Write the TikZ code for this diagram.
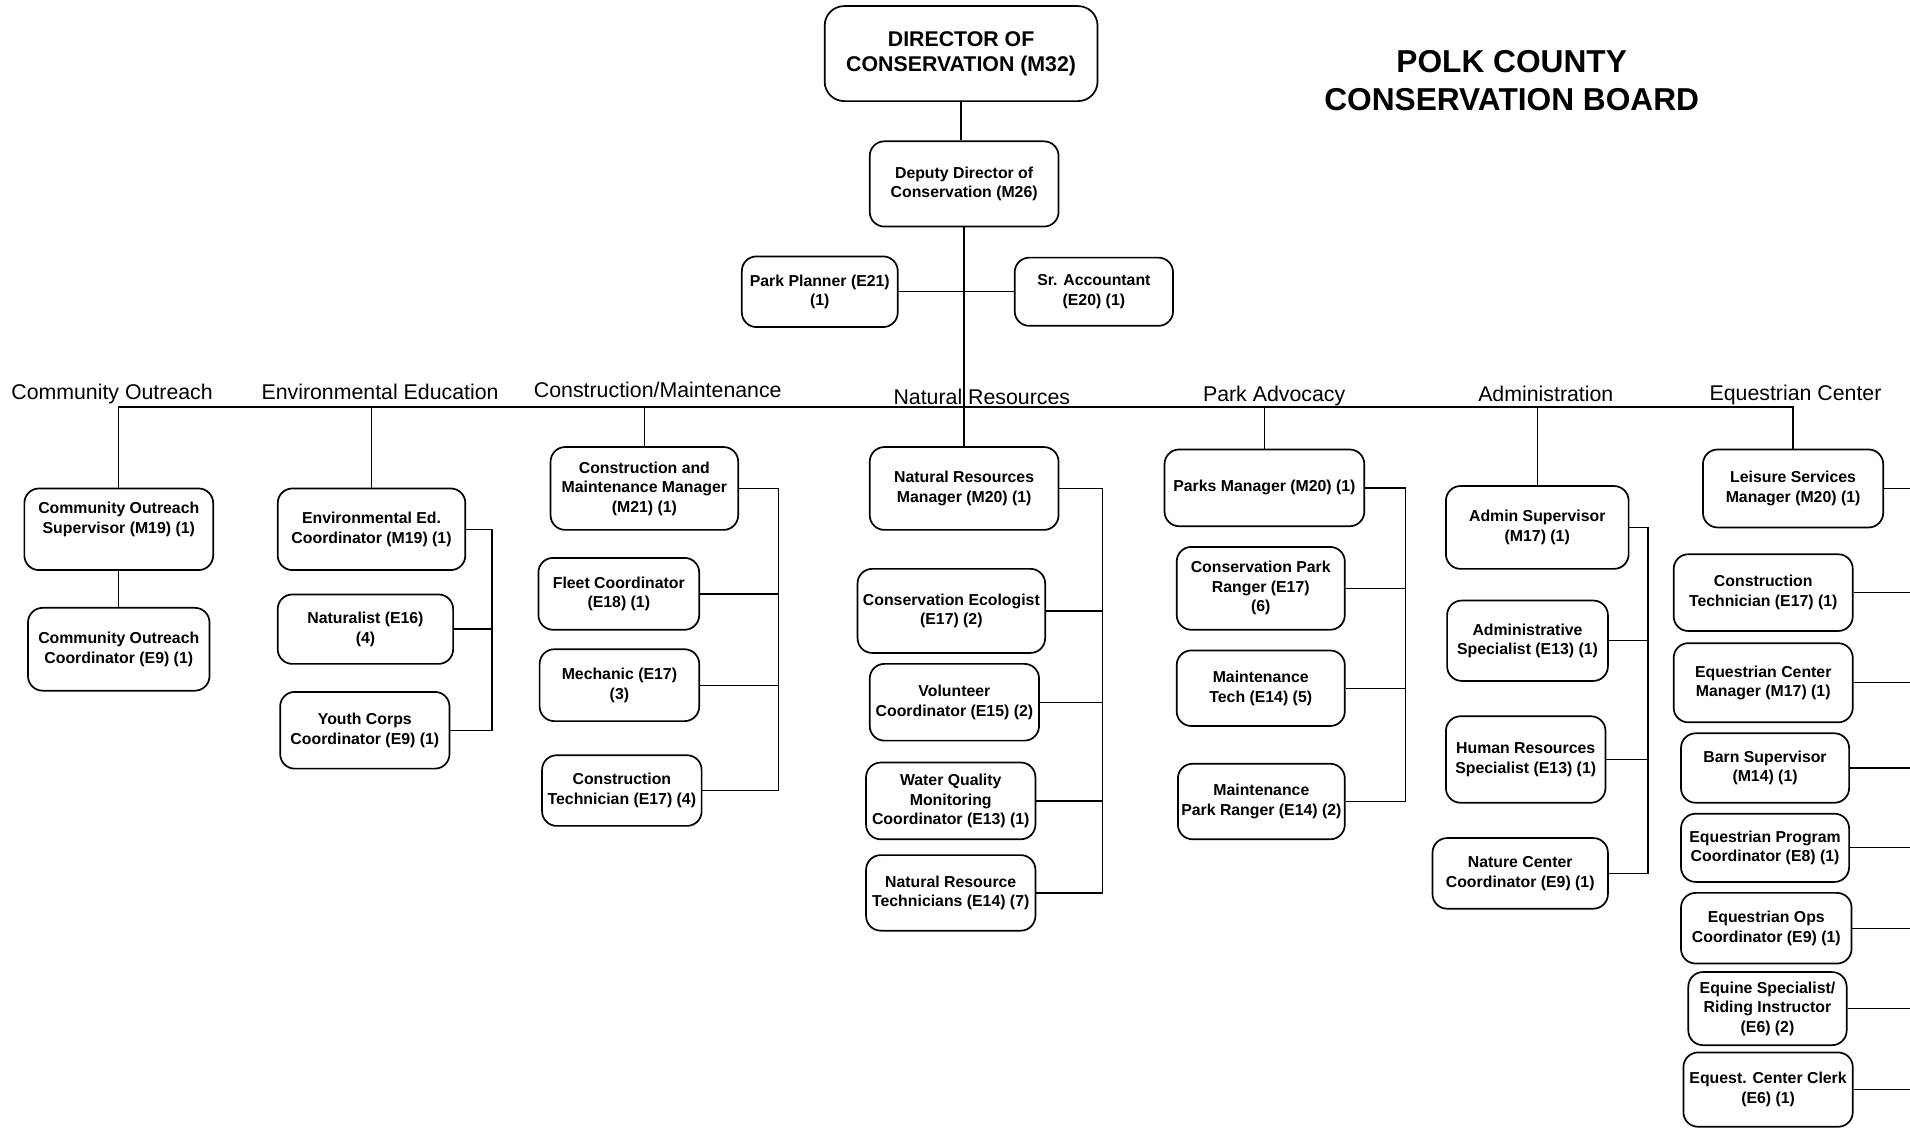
\documentclass[tikz,border=0pt]{standalone}
\usepackage{fontspec}
\setmainfont{Liberation Sans}
\usetikzlibrary{positioning}
\tikzset{
  jobbox/.style={draw, rounded corners=12pt, line width=1.4pt, align=center, inner sep=2pt, font=\fontsize{13}{16}\selectfont\bfseries},
  dept/.style={anchor=base, inner sep=0pt, font=\fontsize{17.5}{21}\selectfont},
  link/.style={line width=1.1pt},
}

\begin{document}
\begin{tikzpicture}[x=1pt, y=-1pt]
\useasboundingbox (0,0) rectangle (1568,926);

\node[font=\fontsize{26}{31}\selectfont\bfseries, align=center] (title) at (1241,66) {POLK COUNTY\\CONSERVATION BOARD};

\node[jobbox, rounded corners=16pt, minimum width=224, minimum height=78, font=\fontsize{17.5}{21}\selectfont\bfseries] (dir) at (789,44) {DIRECTOR OF\\CONSERVATION (M32)};
\node[jobbox, minimum width=155, minimum height=70] (dep) at (791.5,151) {Deputy Director of\\Conservation (M26)};
\node[jobbox, minimum width=128, minimum height=58] (planner) at (673,239.5) {Park Planner (E21)\\(1)};
\node[jobbox, minimum width=130, minimum height=56] (acct) at (898,239.5) {Sr. Accountant\\(E20) (1)};

\node[dept] (hco) at (92,328) {Community Outreach};
\node[dept] (hee) at (312,328) {Environmental Education};
\node[dept] (hcm) at (540,326) {Construction/Maintenance};
\node[dept] (hnr) at (806,332) {Natural Resources};
\node[dept] (hpa) at (1046,330) {Park Advocacy};
\node[dept] (had) at (1269,330) {Administration};
\node[dept] (hec) at (1474,329) {Equestrian Center};

\node[jobbox, minimum width=155, minimum height=67, text depth=19pt] (cosup) at (97.5,434.5) {Community Outreach\\Supervisor (M19) (1)};
\node[jobbox, minimum width=149, minimum height=68] (cocoord) at (97.5,533) {Community Outreach\\Coordinator (E9) (1)};

\node[jobbox, minimum width=154, minimum height=67] (eecoord) at (305,434.5) {Environmental Ed.\\Coordinator (M19) (1)};
\node[jobbox, minimum width=144, minimum height=57] (natur) at (300,516.5) {Naturalist (E16)\\(4)};
\node[jobbox, minimum width=139, minimum height=63] (youth) at (299.5,599.5) {Youth Corps\\Coordinator (E9) (1)};

\node[jobbox, minimum width=154, minimum height=68] (cmmgr) at (529,401) {Construction and\\Maintenance Manager\\(M21) (1)};
\node[jobbox, minimum width=132, minimum height=59] (fleet) at (508,487.5) {Fleet Coordinator\\(E18) (1)};
\node[jobbox, minimum width=131, minimum height=59] (mech) at (508.5,562.5) {Mechanic (E17)\\(3)};
\node[jobbox, minimum width=131, minimum height=58] (ctech) at (510.5,649) {Construction\\Technician (E17) (4)};

\node[jobbox, minimum width=155, minimum height=68] (nrmgr) at (791.5,401) {Natural Resources\\Manager (M20) (1)};
\node[jobbox, minimum width=154, minimum height=69] (ecol) at (781,501.5) {Conservation Ecologist\\(E17) (2)};
\node[jobbox, minimum width=139, minimum height=63] (volun) at (783.5,576.5) {Volunteer\\Coordinator (E15) (2)};
\node[jobbox, minimum width=139, minimum height=63] (water) at (780.5,657.5) {Water Quality\\Monitoring\\Coordinator (E13) (1)};
\node[jobbox, minimum width=139, minimum height=62] (nrtech) at (780.5,733) {Natural Resource\\Technicians (E14) (7)};

\node[jobbox, minimum width=164, minimum height=63] (pkmgr) at (1038,400.5) {Parks Manager (M20) (1)};
\node[jobbox, minimum width=138, minimum height=68] (ranger) at (1035,483) {Conservation Park\\Ranger (E17)\\(6)};
\node[jobbox, minimum width=138, minimum height=62] (mtech) at (1035,565) {Maintenance\\Tech (E14) (5)};
\node[jobbox, minimum width=137, minimum height=62] (mranger) at (1035.5,658) {Maintenance\\Park Ranger (E14) (2)};

\node[jobbox, minimum width=150, minimum height=68] (admsup) at (1262,433) {Admin Supervisor\\(M17) (1)};
\node[jobbox, minimum width=132, minimum height=66] (admspec) at (1254,526) {Administrative\\Specialist (E13) (1)};
\node[jobbox, minimum width=131, minimum height=71] (hrspec) at (1252.5,623.5) {Human Resources\\Specialist (E13) (1)};
\node[jobbox, minimum width=144, minimum height=58] (natctr) at (1248,717) {Nature Center\\Coordinator (E9) (1)};

\node[jobbox, minimum width=148, minimum height=64] (lsm) at (1472,401) {Leisure Services\\Manager (M20) (1)};
\node[jobbox, minimum width=147, minimum height=63] (eqtech) at (1447.5,486.5) {Construction\\Technician (E17) (1)};
\node[jobbox, minimum width=147, minimum height=65] (eqmgr) at (1447.5,560.5) {Equestrian Center\\Manager (M17) (1)};
\node[jobbox, minimum width=138, minimum height=57] (barn) at (1449,630.5) {Barn Supervisor\\(M14) (1)};
\node[jobbox, minimum width=138, minimum height=56] (eqprog) at (1449,696) {Equestrian Program\\Coordinator (E8) (1)};
\node[jobbox, minimum width=140, minimum height=58] (eqops) at (1450,762) {Equestrian Ops\\Coordinator (E9) (1)};
\node[jobbox, minimum width=130, minimum height=60] (equine) at (1451,828) {Equine Specialist/\\Riding Instructor\\(E6) (2)};
\node[jobbox, minimum width=139, minimum height=61] (clerk) at (1451.5,894.5) {Equest. Center Clerk\\(E6) (1)};

\coordinate (bus) at (0,334);
\coordinate (eebar) at (404,0);
\coordinate (cmbar) at (639,0);
\coordinate (nrbar) at (905,0);
\coordinate (pabar) at (1154,0);
\coordinate (adbar) at (1353,0);
\coordinate (ecedge) at (1568,0);

\draw[link] (dir.south) -- (dir.south |- dep.north);
\draw[link] (dep.south) -- (nrmgr.north);
\draw[link] (planner.east) -- (acct.west);
\draw[link] (cosup.north) |- (lsm.north |- bus) -- (lsm.north);
\draw[link] (eecoord.north) -- (eecoord.north |- bus);
\draw[link] (cmmgr.north) -- (cmmgr.north |- bus);
\draw[link] (pkmgr.north) -- (pkmgr.north |- bus);
\draw[link] (admsup.north) -- (admsup.north |- bus);

\draw[link] (cosup.south) -- (cocoord.north);

\draw[link] (eecoord.east) -| (eebar |- youth.east) -- (youth.east);
\draw[link] (natur.east) -- (eebar |- natur.east);

\draw[link] (cmmgr.east) -| (cmbar |- ctech.east) -- (ctech.east);
\draw[link] (fleet.east) -- (cmbar |- fleet.east);
\draw[link] (mech.east) -- (cmbar |- mech.east);

\draw[link] (nrmgr.east) -| (nrbar |- nrtech.east) -- (nrtech.east);
\draw[link] (ecol.east) -- (nrbar |- ecol.east);
\draw[link] (volun.east) -- (nrbar |- volun.east);
\draw[link] (water.east) -- (nrbar |- water.east);

\draw[link] (pkmgr.east) -| (pabar |- mranger.east) -- (mranger.east);
\draw[link] (ranger.east) -- (pabar |- ranger.east);
\draw[link] (mtech.east) -- (pabar |- mtech.east);

\draw[link] (admsup.east) -| (adbar |- natctr.east) -- (natctr.east);
\draw[link] (admspec.east) -- (adbar |- admspec.east);
\draw[link] (hrspec.east) -- (adbar |- hrspec.east);

\draw[link] (lsm.east) -- (ecedge |- lsm.east);
\draw[link] (eqtech.east) -- (ecedge |- eqtech.east);
\draw[link] (eqmgr.east) -- (ecedge |- eqmgr.east);
\draw[link] (barn.east) -- (ecedge |- barn.east);
\draw[link] (eqprog.east) -- (ecedge |- eqprog.east);
\draw[link] (eqops.east) -- (ecedge |- eqops.east);
\draw[link] (equine.east) -- (ecedge |- equine.east);
\draw[link] (clerk.east) -- (ecedge |- clerk.east);
\end{tikzpicture}
\end{document}
